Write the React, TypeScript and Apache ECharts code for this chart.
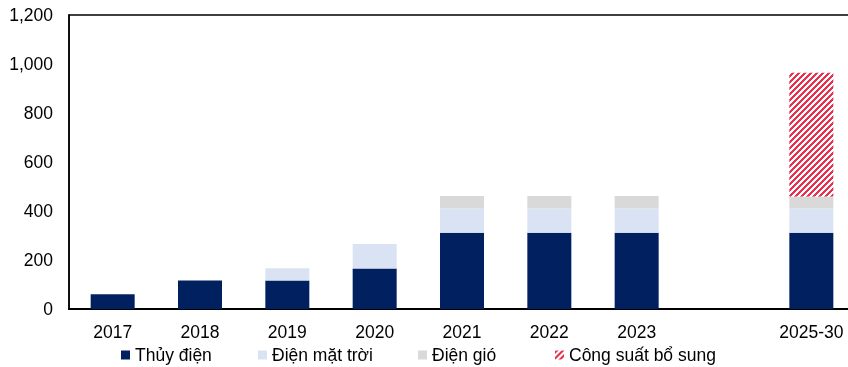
import React, { useEffect, useRef } from "react";
import * as echarts from "echarts";

const categories = ["2017", "2018", "2019", "2020", "2021", "2022", "2023", "", "2025-30"];
const hydro = [60, 116, 116, 165, 311, 311, 311, null, 311];
const solar = [null, null, 50, 100, 99, 99, 99, null, 99];
const wind = [null, null, null, null, 51, 51, 51, null, 49];
const additional = [null, null, null, null, null, null, null, null, 505];
const seriesNames = ["Thủy điện", "Điện mặt trời", "Điện gió", "Công suất bổ sung"];
const legendLefts = [121, 258, 418, 555];

function makeHatch(): string {
  const size = 6;
  const c = document.createElement("canvas");
  c.width = size;
  c.height = size;
  const ctx = c.getContext("2d")!;
  ctx.fillStyle = "#ffffff";
  ctx.fillRect(0, 0, size, size);
  ctx.fillStyle = "#e9304c";
  for (let x = 0; x < size; x++) {
    for (let y = 0; y < size; y++) {
      if ((x + y) % size < 3) ctx.fillRect(x, y, 1, 1);
    }
  }
  return c.toDataURL();
}

export default function App() {
  const ref = useRef<HTMLDivElement>(null);
  useEffect(() => {
    if (!ref.current) return;
    const chart = echarts.init(ref.current, null, { renderer: "svg" });
    const hatch = { image: makeHatch(), repeat: "repeat" } as any;
    const font = "'Liberation Sans', Arial, sans-serif";
    const colors = ["#002060", "#dae3f3", "#d9d9d9", hatch];
    const dataSets = [hydro, solar, wind, additional];
    chart.setOption({
      animation: false,
      textStyle: { fontFamily: font },
      grid: {
        left: 69,
        width: 786,
        top: 15,
        bottom: 58,
        outerBoundsMode: "none",
        containLabel: false,
        show: true,
        borderColor: "#000",
        borderWidth: 1.5,
        backgroundColor: "transparent",
      },
      legend: seriesNames.map((n, i) => ({
        data: [n],
        left: legendLefts[i],
        top: 344,
        padding: 0,
        itemWidth: 9,
        itemHeight: 9,
        itemGap: 0,
        icon: "rect",
        textStyle: { fontSize: 17.5, color: "#000", fontFamily: font, lineHeight: 22 },
      })),
      xAxis: {
        type: "category",
        data: categories,
        axisLine: { lineStyle: { color: "#000", width: 2 } },
        axisTick: { show: false },
        axisLabel: { fontSize: 17.5, color: "#000", margin: 14, interval: 0 },
      },
      yAxis: {
        type: "value",
        min: 0,
        max: 1200,
        interval: 200,
        splitLine: { show: false },
        axisLine: { show: true, lineStyle: { color: "#000", width: 1.5 } },
        axisTick: { show: false },
        axisLabel: {
          fontSize: 17.5,
          color: "#000",
          margin: 16,
          formatter: (v: number) => v.toLocaleString("en-US"),
        },
      },
      series: seriesNames.map((n, i) => ({
        name: n,
        type: "bar",
        stack: "total",
        barWidth: 44,
        data: dataSets[i],
        itemStyle: { color: colors[i] },
      })),
    });
    return () => chart.dispose();
  }, []);
  return (
    <div style={{ position: "fixed", left: 0, top: 0, width: 848, height: 367, overflow: "hidden" }}>
      <div ref={ref} style={{ width: 848, height: 367 }} />
    </div>
  );
}
